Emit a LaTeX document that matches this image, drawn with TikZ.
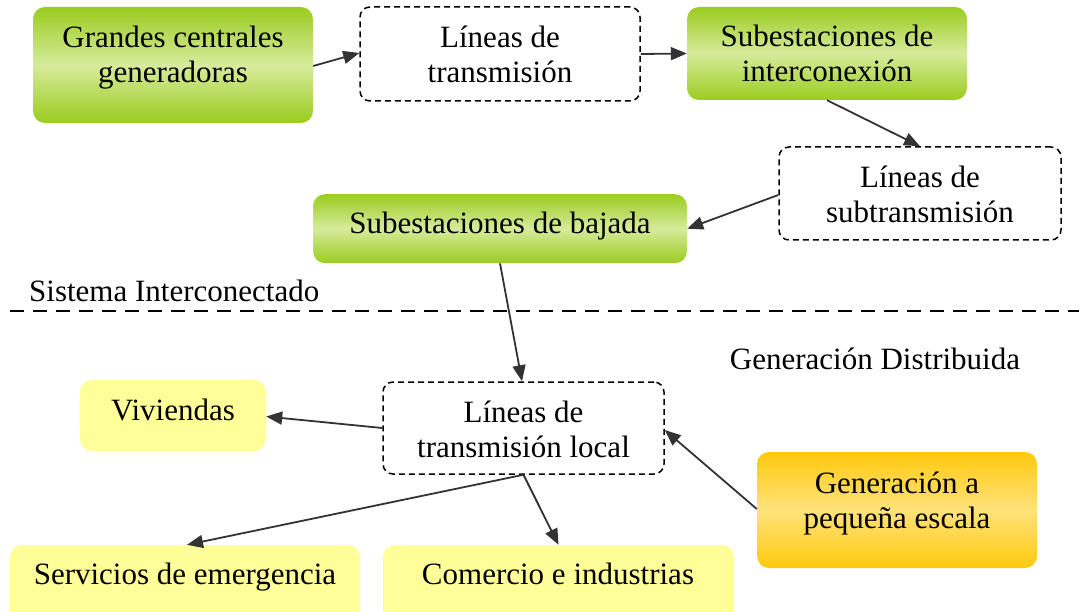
\documentclass[tikz,border=0pt]{standalone}
\usepackage{fontspec}
\setmainfont{Liberation Serif}
\usetikzlibrary{arrows.meta,calc}
\definecolor{gedge}{HTML}{9BCC1F}
\definecolor{gmid}{HTML}{D6EB9C}
\definecolor{oedge}{HTML}{FFC90E}
\definecolor{omid}{HTML}{FFE27A}
\definecolor{ylw}{HTML}{FFFF99}
\definecolor{arrc}{HTML}{333333}
\tikzset{
  box/.style={rounded corners=12pt, inner sep=0pt, draw=none},
  greenbox/.style={box, top color=gedge, bottom color=gedge, middle color=gmid},
  orangebox/.style={box, top color=oedge, bottom color=oedge, middle color=omid},
  yellowbox/.style={box, fill=ylw},
  dashbox/.style={rounded corners=10pt, inner sep=0pt, draw=black, line width=1.5pt, dash pattern=on 6pt off 4pt, fill=white},
  txt/.style={inner sep=0pt, align=center, anchor=base, font=\fontsize{31}{35}\selectfont},
  arr/.style={draw=arrc, line width=1.8pt, -{Triangle[length=16pt,width=13pt]}},
}
\begin{document}
\begin{tikzpicture}[x=1pt,y=-1pt]
\useasboundingbox (0,0) rectangle (1079,612);
\clip (0,0) rectangle (1079,612);
% boxes
\node[greenbox, minimum width=280pt, minimum height=116pt] (g) at (173,65) {};
\node[dashbox, minimum width=280pt, minimum height=94pt] (lt) at (500,54) {};
\node[greenbox, minimum width=280pt, minimum height=93pt] (si) at (827,53.5) {};
\node[dashbox, minimum width=282pt, minimum height=93pt] (ls) at (920,193.5) {};
\node[greenbox, minimum width=374pt, minimum height=69pt] (sb) at (500,228.7) {};
\node[dashbox, minimum width=281pt, minimum height=92pt] (ltl) at (523.5,428) {};
\node[yellowbox, minimum width=186pt, minimum height=71pt] (v) at (173,415.5) {};
\node[yellowbox, minimum width=350pt, minimum height=80pt] (se) at (185,585) {};
\node[yellowbox, minimum width=351pt, minimum height=80pt] (ci) at (558.5,585) {};
\node[orangebox, minimum width=280pt, minimum height=116pt] (gp) at (897,510) {};
% texts (base = baseline of last line)
\node[txt] (tg) at (173,83) {Grandes centrales\\generadoras};
\node[txt] (tlt) at (500,83) {Líneas de\\transmisión};
\node[txt] (tsi) at (827,82) {Subestaciones de\\interconexión};
\node[txt] (tls) at (920,223) {Líneas de\\subtransmisión};
\node[txt] (tsb) at (500,234) {Subestaciones de bajada};
\node[txt] (tltl) at (523.5,457) {Líneas de\\transmisión local};
\node[txt] (tv) at (173,420) {Viviendas};
\node[txt] (tse) at (185,584) {Servicios de emergencia};
\node[txt] (tci) at (558,584) {Comercio e industrias};
\node[txt] (tgp) at (897,528) {Generación a\\pequeña escala};
\node[txt, anchor=base west] (tsis) at (29,302) {Sistema Interconectado};
\node[txt] (tgd) at (875,370) {Generación Distribuida};
% divider
\coordinate (dl) at (10,311);
\coordinate (dr) at (1079,311);
\draw[line width=1.8pt, dash pattern=on 14pt off 9pt] (dl) -- (dr);
% connectors
\draw[arr] ($(g.east)+(0,1)$) -- ($(lt.west)+(0,-1)$);
\draw[arr] (lt.east) -- (si.west);
\draw[arr] (si.south) -- (ls.north);
\draw[arr] ($(ls.west)+(0,1.5)$) -- (sb.east);
\draw[arr] (sb.south) -- ($(ltl.north)+(-1.5,0)$);
\draw[arr] (ltl.west) -- ($(v.east)+(0,1)$);
\draw[arr] (ltl.south) -- ($(se.north)+(2,0)$);
\draw[arr] (ltl.south) -- (ci.north);
\draw[arr] ($(gp.west)+(0,-1)$) -- ($(ltl.east)+(0,2)$);
\end{tikzpicture}
\end{document}
